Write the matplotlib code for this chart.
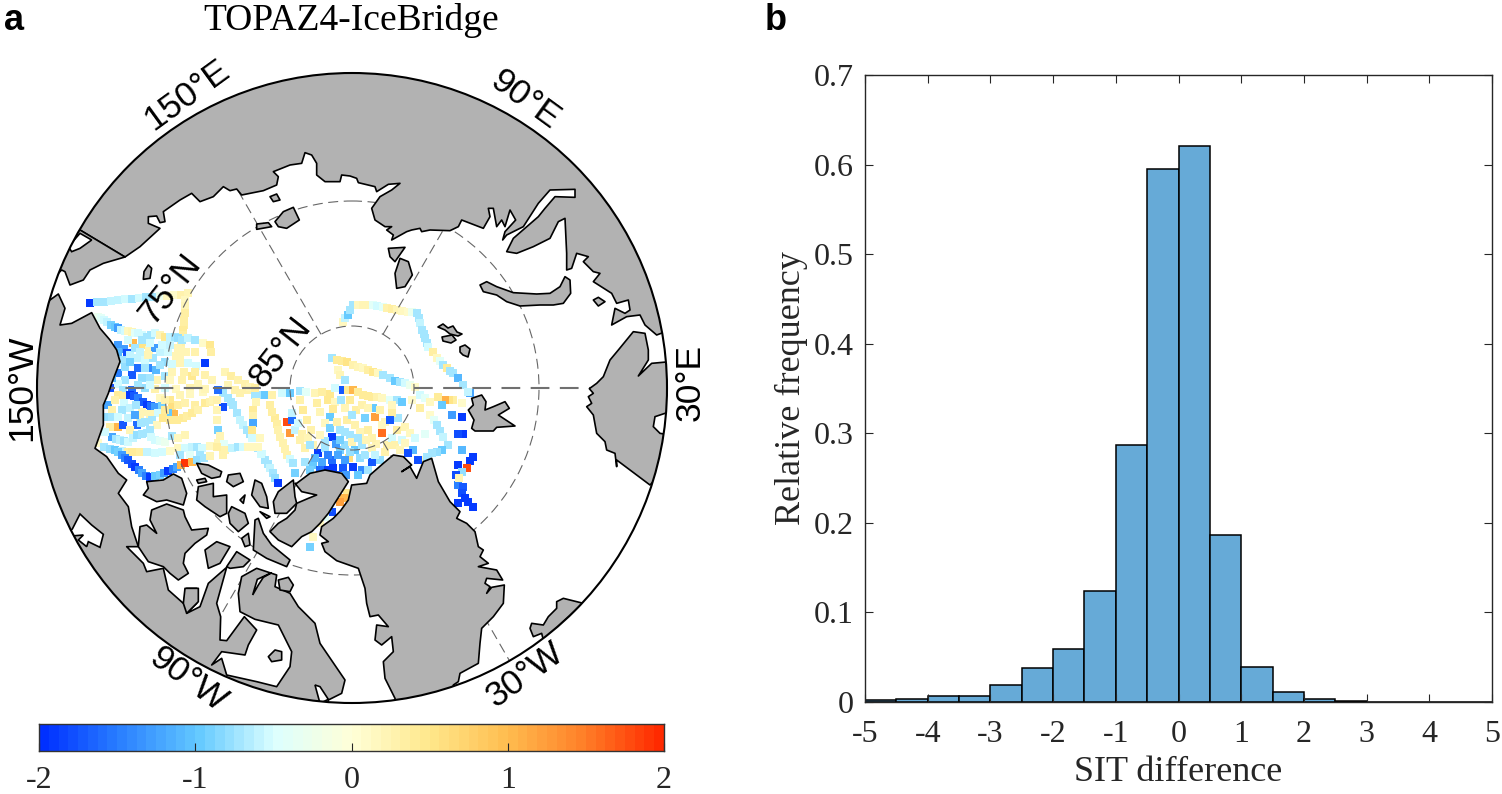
import numpy as np
import matplotlib
matplotlib.use("Agg")
import matplotlib.pyplot as plt
from matplotlib.colors import LinearSegmentedColormap, Normalize
from matplotlib.patches import Circle, Polygon

# ---------- histogram data ----------
BIN_EDGES = [-5, -4.5, -4, -3.5, -3, -2.5, -2, -1.5, -1, -0.5, 0, 0.5, 1, 1.5, 2, 2.5, 3, 3.5, 4, 4.5, 5]
REL_FREQ = [0.002, 0.003, 0.007, 0.007, 0.019, 0.038, 0.059, 0.124, 0.287, 0.595,
            0.621, 0.186, 0.039, 0.011, 0.003, 0.001, 0.0, 0.0, 0.0, 0.0]
HIST_XTICKS = [-5, -4, -3, -2, -1, 0, 1, 2, 3, 4, 5]
HIST_YTICKS = [0, 0.1, 0.2, 0.3, 0.4, 0.5, 0.6, 0.7]
CBAR_TICKS = [-2, -1, 0, 1, 2]

# ---------- along-track SIT differences: (x, y, value) on the map's pixel grid ----------
TRACK_BEAUFORT = [(90,303,-1.9),(97,302,-.7),(104,302,-.7),(111,301,-.6),(118,300,-.6),(125,299,-.4),(132,299,-.5),
    (139,298,-.4),(146,297,-.5),(153,297,-.5),(160,296,-.2),(167,296,.2),(174,295,.1),(181,295,.4),(188,293,.3)]
TRACK_SOUTH = [(185,300,.2),(185,306,.3),(185,313,.5),(184,320,.5),(184,325,.5),(183,330,.6),(183,335,.5),(182,340,.4),(181,345,.4),(181,350,.3),(180,358,.3),(180,363,.3),
    (184,372,.4),(192,376,.7),(198,384,.3),(203,392,.2)]
TRACK_COAST = [(98,317,-.2),(101,318,-.3),(104,320,-.4),(107,322,-.6),(111,325,-.9),(115,327,-1.0),(118,328,-1.3),(121,330,-.6),(125,331,-.4),(128,331,.2),(132,332,.3),(135,333,-.3),(138,333,-.4),(142,335,-.4),(147,337,-.5),
    (151,335,-.5),(155,333,-.4),(160,335,.3),(165,337,.7),(170,337,-.6),(175,337,-.7),(178,338,-.8),(182,340,-.7),(188,338,-.6),(195,340,-.7),(203,343,.1),(210,345,.7),(211,352,.5)]
TRACK_NW = [(118,345,-1.3),(124,349,-1.3),(118,352,-1.1),(127,353,-1.8),(133,343,1.0),(122,360,-.7),(143,345,.8),(149,350,.3),
    (155,348,-1.3),(160,352,-.6),(168,352,-.4),(176,356,.3),(130,355,-.6),(138,358,-.6),(145,360,-.4),(153,358,-.5),(165,362,-.8),
    (188,363,-.4),(196,366,-.4),(205,363,-1.9),(138,368,-1.6),(148,368,-1.4),(156,370,-1.1),(132,375,-1.7),(118,373,-1.5),(125,367,-.8),
    (112,366,-1.2),(157,380,.3),(165,376,-.5),(150,378,-.5),(172,372,.3),(142,378,-.8),(125,380,-.7),(118,384,-.4),
    (110,388,-1.8),(123,390,-.7),(132,390,-1.6),(145,388,-.8),(155,389,.4),(165,388,-.4),(176,389,.2),(190,388,.4),(205,389,.3),
    (135,348,-.5),(128,340,-.4),(142,340,-.5),(150,343,-.4),(162,345,-.4),(170,345,-.6),(178,348,.3),(186,352,.3),(195,352,.4),
    (140,352,-.6),(148,355,.3),(130,362,-.9),(145,368,-.5),(160,365,-.5),(172,364,-.4),(195,372,.5),(205,375,.4),(212,380,.3),
    (115,360,-1.0),(112,378,-1.1),(138,385,-.7),(150,385,-.4),(170,380,.2),(182,380,.4)]
TRACK_W_DIAG = [(118,395,.6),(124,396,.5),(130,395,-1.9),(134,396,-1.7),(138,398,-1.5),(143,402,-1.7),(147,405,-1.9),(151,406,-1.6),(155,407,-1.3),(162,405,-.9),(170,400,.7),(172,407,.9),
    (174,414,1.0),(168,413,-1.0),(108,405,-1.2),(115,400,.4),(124,403,-.4),(130,408,-.6),(122,410,-.5),(142,412,.3),(150,414,.3),
    (104,395,-.6),(112,410,.4),(160,398,.2),(180,395,.3),(190,394,.2),(136,405,-.5),(158,413,-.4),(165,400,.4),(178,405,.5),(185,403,.4),(195,405,.5),(140,420,.3)]
TRACK_W_ROW1 = [(107,417,-.8),(112,417,-.5),(118,417,-.4),(118,427,1.0),(123,425,-1.7),(128,418,-.6),(135,415,-1.2),(137,425,-1.6),(141,423,-.5),(145,422,-.5),
    (152,420,-.5),(157,425,.2),(163,418,.7),(165,410,.6),(170,420,.6),(177,420,.6),(183,418,.6),(187,416,.5),(192,413,.6),(198,410,.4),(205,403,.6),(210,402,.4),(213,400,.3),(110,427,.5),(130,430,.3),(150,430,-.5)]
TRACK_W_ROW2 = [(112,437,-1.2),(116,439,-.7),(120,440,-.6),(124,441,-.5),(128,442,-.4),(133,438,-.6),(137,435,-.8),(142,434,-.5),(147,433,-.5),(151,437,-.4),(155,440,-.4),(160,441,-.3),(165,442,-.2),(172,436,-.5),(105,432,-.4),(178,438,.2),(185,435,.3)]
TRACK_W_ROW3 = [(98,443,.1),(104,447,-.7),(110,449,-.8),(115,450,-1.0),(122,451,-.6),(128,452,.5),(132,452,.6),(140,452,.5),(147,452,-.6),(155,453,-.4),
    (162,452,-.4),(170,451,.1),(178,448,.2),(185,448,-.4),(192,447,-.6),(197,447,-.5),(202,448,-.4),(210,446,.2),(218,443,.3),(224,444,-.3),(180,455,-.5),(190,455,-.3),(200,455,-.5)]
TRACK_W_ARC = [(118,452,-.9),(122,455,-1.3),(125,458,-1.5),(128,460,-1.7),(132,464,-1.8),(135,467,-1.9),(139,470,-1.5),(142,473,-1.2),(146,476,-1.5),(150,477,-1.9),(155,476,-1.0),(160,475,-.9),(164,473,-1.3),(168,471,-1.9),(173,469,-1.5),(177,467,-1.2),
    (181,465,1.0),(185,463,1.9),(192,462,1.0),(197,460,-.8),(204,458,-.5),(210,456,.3)]
TRACK_C1 = [(223,393,-.7),(228,398,-.7),(231,402,-.5),(233,405,-.5),(237,413,-.5),(240,420,-.6),(243,425,-.6),(247,430,-.7),(250,434,-.5),(252,438,-.4),(218,390,-1.6),(223,407,-1.8),
    (217,400,.4),(217,410,.3),(217,420,.3),(218,430,-.9),(217,447,.5),(220,436,.3),(223,455,.4)]
TRACK_C2 = [(225,450,.4),(232,448,-.6),(238,447,-.7),(243,447,-.4),(248,447,.2),(253,447,.2),(258,448,-.5),(262,454,-.4),(265,460,-.5),(268,464,-.5),(270,468,-.6),(273,473,-.7),(275,478,-.8),(278,483,-1.9),(261,454,-.4)]
TRACK_C3 = [(240,393,.4),(247,390,.4),(255,395,-.5),(260,395,-.7),(265,395,-1.0),(272,395,.4),(253,410,.6),(253,416,.4),(253,423,-1.2),(252,430,.7),(258,447,.2),(256,402,.3),(260,438,.2),
    (225,372,.3),(231,376,.5),(238,380,.4),(245,384,.4),(250,387,.3),(255,388,.5),(228,385,.3),(235,390,.4)]
TRACK_C4 = [(275,418,.6),(277,424,.5),(278,430,.4),(280,437,.4),(283,443,.4),(285,449,.4),(287,455,.4),(290,459,-.4),(293,463,-.5),(295,473,-.9),(270,405,.5),(272,412,.5),(287,422,1.8),(290,433,1.3),(292,420,-1.6),
    (292,413,-.6),(295,430,-.6),(300,440,.4),(302,434,.4),(305,448,.4),(298,423,-.4),(308,438,.3),(313,445,.3)]
TRACK_C5 = [(290,393,-1.0),(282,393,-.4),(300,391,-.5),(306,392,-.3),(315,393,.3),(322,392,.5),(330,394,.7),(300,400,.4),(303,410,.6),(307,420,.5),(311,430,.4),
    (328,400,.7),(330,417,-1.0),(325,423,.2),(335,402,.2),(341,400,-.5),(320,412,.3),(333,409,.6),(317,403,.5)]
TRACK_C6 = [(332,437,-1.9),(318,453,-1.9),(322,462,-1.2),(332,460,-1.6),(333,468,-1.9),(343,468,-1.7),(340,450,-.9),(336,444,-1.3),(345,445,-.8),
    (325,441,-.5),(310,445,-.5),(327,470,-1.9),(349,458,.9),(305,462,-.7),(313,465,-1.0),(340,430,-.7),(330,428,-.9),(350,435,-.5),(337,422,.4),
    (345,432,-.7),(320,435,.2),(325,448,-.5),(355,450,-1.0),(346,475,-1.3),(353,467,-1.9),(360,458,-.8),(362,470,-1.4),(372,462,-1.7),(365,455,-.5),(372,448,.3),(380,460,-.8),
    (338,455,-1.2),(328,455,-1.5),(350,452,-.8),(345,460,-1.3),(315,458,-1.1),(310,470,-.9),(320,470,-1.6),(336,475,-1.7),(358,475,-1.0),(368,470,-.7)]
TRACK_C7 = [(340,440,-.9),(347,420,.5),(355,425,.4),(365,418,-.9),(360,432,.3),(368,430,.5),(375,417,1.2),(373,408,-1.0),(382,433,1.6),(376,444,.3),
    (387,445,.4),(392,438,-.4),(385,422,.3),(397,430,.5),(405,427,.3),(398,418,-.5),(392,413,.5),(390,420,-1.7),(352,442,.3),(362,445,-.5),(356,410,.5),(362,405,.4),(350,400,.6),
    (380,410,.4),(368,408,.3),(345,408,.3),(352,415,-.5),(372,438,.4),(382,425,.2),(395,445,.4),(402,440,-.4),(410,433,.2),(385,452,.4),(375,455,-.6),(358,438,-.5),(366,440,.3),(400,450,.3)]
TRACK_ARC_TOP = [(343,322,.2),(345,318,-.6),(348,315,-1.0),(350,310,-.5),(353,305,-.5),(358,305,.2),(363,305,.3),(368,305,.3),(373,305,-.3),(377,306,-.4),(383,307,-.3),(387,308,.4),(392,309,.5),(397,310,.3),(402,311,.2),(408,312,.1),(412,312,-.2),
    (417,313,-.5),(419,318,-.5),(420,323,-.6),(422,330,-.7),(424,334,-.7),(425,338,-.7),(427,343,-.5),(428,347,-.4),(433,352,.5),(437,358,.2),(440,361,-.3),(443,365,-.5),(447,368,.6),(450,371,-.5),(453,373,-.7),(458,378,-1.1),(463,385,-.5),(470,393,-1.2)]
TRACK_EAST = [(332,358,-.5),(337,360,.6),(342,361,.6),(347,362,.8),(353,365,.4),(358,367,.3),(363,368,.2),(368,370,.5),(373,372,.7),(378,373,.2),(383,375,-.5),(390,378,-.7),(395,381,-1.0),(400,382,-.5),(405,383,-.4),(410,385,-.2),(415,387,.1),
    (338,370,.2),(340,375,.3),(345,380,-.5),(335,388,-.4),(343,390,-1.7),(348,390,.6),(353,390,1.0),(358,392,.6),(363,395,.6),(368,396,.6),(372,397,.6),(377,397,.4),(382,398,.2),(390,400,-.3),(397,400,-.5),(402,402,-1.0),(392,405,.2)]
TRACK_FRAM = [(468,392,-.6),(453,400,.5),(449,400,.8),(445,400,1.1),(442,405,-1.0),(462,403,.1),(452,415,-1.3),(462,417,-1.9),(463,434,-1.9),(458,434,-1.8),(462,450,-1.1),
    (473,457,-1.9),(470,461,-1.9),(467,468,1.8),(458,465,-1.9),(462,472,-.8),(456,475,-1.8),(458,485,-1.5),(463,487,-1.7),(462,493,-1.8),(468,502,-1.9),(473,507,-1.9),(458,503,-1.9),(459,478,.3),(465,498,-1.9)]
TRACK_LOOP = [(420,395,-.4),(425,398,-.3),(430,402,.2),(438,397,.6),(420,408,.5),(430,415,.1),(434,420,-.3),(437,425,-.5),(440,431,-.5),(443,437,-.6),(448,445,-.5),(442,450,-1.0),(437,452,-.8),(432,453,-.7),(423,460,.3),
    (413,450,-1.1),(408,453,-1.8),(418,460,-1.8),(412,400,.1),(425,434,-.3),(427,457,-.5),(405,443,.2),(415,438,-.4)]
TRACK_STRAIT = [(332,512,-1.8),(328,508,-1.5),(347,493,.7),(344,498,1.0),(340,502,1.2),(320,523,.2),(325,517,-.3),(313,537,.2),(310,547,-.9)]

ALL_TRACKS = [TRACK_BEAUFORT, TRACK_SOUTH, TRACK_COAST, TRACK_NW, TRACK_W_DIAG, TRACK_W_ROW1, TRACK_W_ROW2, TRACK_W_ROW3,
              TRACK_W_ARC, TRACK_C1, TRACK_C2, TRACK_C3, TRACK_C4, TRACK_C5, TRACK_C6, TRACK_C7, TRACK_ARC_TOP, TRACK_EAST,
              TRACK_FRAM, TRACK_LOOP, TRACK_STRAIT]

# ---------- coastline outlines on the map's pixel grid ----------
def z(pts, dx=0, dy=0):
    return [(x / 3 + dx, y / 3 + dy) for x, y in pts]

EURASIA = [(80,230),(125,257)] + z([(420,740),(480,685),(445,670),(445,650),(470,648),(480,668),(495,665),(490,635),(540,600),(575,580),(600,605),(640,590),(670,560),(690,572),(710,567),(725,585),(790,572),(830,555),(835,530),(820,515),(870,495),(905,490),(915,458),(935,465),(950,490),(950,525),(975,545),(1020,545),(1025,525)]) + z([(0,528),(20,535),(25,548),(75,560),(80,575),(115,553),(150,550),(125,570),(90,590),(65,625),(75,660),(105,680),(125,680),(110,690),(130,705),(125,720),(170,695),(185,690),(210,685),(215,695),(240,690),(300,692),(325,680),(335,660),(400,685),(420,650),(415,625),(430,625),(440,680),(455,660),(465,680),(480,630),(497,660),(465,695),(458,720),(470,705),(520,680),(565,610),(600,570),(675,568),(675,592),(615,590),(585,625),(565,650),(490,715),(470,755),(500,760),(550,740),(600,715),(625,665),(645,655),(650,760),(650,810),(665,805),(680,760),(715,770),(700,785),(730,815),(750,820),(730,845),(785,880),(800,910),(835,900),(840,930),(825,940),(795,925),(785,975),(830,950),(870,945),(885,975),(920,1005),(960,990)],350,0) + [(720,300),(600,0),(100,0)]
CHUKOTKA = [(80,230),(125,257)] + z([(310,790),(270,810),(250,840),(210,855),(195,815),(185,810)]) + [(30,300),(50,220)]
NOVAYA = z([(390,855),(410,845),(440,860),(490,878),(560,882),(600,880),(630,860),(645,830),(660,840),(662,880),(640,910),(610,915),(570,915),(510,918),(470,905),(440,885),(400,875)],350,0)
SEVERNAYA = [z([(115,745),(165,742),(135,785),(120,770)],350,0), z([(150,775),(175,785),(187,825),(165,860),(140,865),(135,820)],350,0), z([(730,900),(745,892),(765,905),(745,918)],350,0)]
NEWSIB = [z([(810,590),(830,582),(840,600),(820,605)]), z([(825,665),(850,635),(880,622),(898,660),(860,685),(835,680)]), z([(770,672),(805,668),(815,680),(770,688)]), z([(445,795),(455,805),(450,835),(430,838),(432,815)])]
FRANZ = [[(438,327),(443,324),(448,328),(453,326),(457,332),(462,334),(458,336),(450,334),(445,330)], [(442,337),(452,335),(456,340),(451,343),(443,341)], [(460,347),(465,345),(470,349),(468,357),(463,355),(460,352)]]
SVALBARD = z([(365,145),(395,135),(408,155),(405,180),(430,170),(465,155),(478,175),(445,195),(495,228),(440,232),(430,243),(375,243),(365,235),(372,210),(355,180),(370,165)],350,350)
SCANDINAVIA = z([(900,405),(800,330),(800,350),(795,310),(770,300),(765,275),(740,250),(730,195),(710,170),(725,160),(715,140),(730,130),(718,116),(740,100),(760,80),(780,30),(805,0),(850,-55),(885,-50),(895,0),(895,30),(865,78),(905,40),(960,35),(1000,300)],350,350)
ICELAND = z([(700,760),(640,745),(620,755),(620,775),(595,800),(580,825),(545,820),(540,835),(550,860),(575,850),(580,870)],350,350)
GREENLAND = z([(5,405),(50,400),(60,375),(100,340),(130,315),(160,320),(185,345),(155,365),(180,350),(200,385),(210,360),(220,335),(245,325),(265,395),(300,455),(330,485),(320,505),(350,520),(375,545),(385,590),(400,600),(390,620),(415,640),(385,650),(440,660),(458,690),(410,685),(405,700),(420,710),(410,730),(425,712),(463,705),(460,760),(430,800),(395,835),(390,880),(385,940),(330,970),(325,995),(310,1005),(300,1080),(140,1090),(135,1045),(105,985),(100,935),(130,905),(125,860),(95,885),(75,870),(80,825),(115,830),(85,795),(60,800),(50,760),(45,715),(25,655),(-40,632),(-75,605),(-85,580),(-65,575),(-90,555),(-85,530),(-50,505),(-28,482),(-5,450)],350,350)
AMERICA = [(20,295)] + z([(150,900),(175,882),(195,925),(180,975),(215,970),(275,938),(300,985),(330,1020)]) + z([(350,0),(360,35),(335,100),(325,130),(310,165),(310,225),(285,295),(320,320),(355,370),(380,390),(355,430),(385,470),(395,530),(415,590),(380,590),(430,640),(440,665),(490,655),(505,720),(550,760),(560,715),(590,715),(590,760),(560,790),(600,770),(625,700),(680,652),(650,760),(662,800),(660,870),(680,872),(733,800),(770,840),(745,885),(735,915),(665,905),(635,945),(665,925),(680,975),(770,995),(830,1010),(870,950),(875,905),(835,825),(765,808),(720,785),(715,730),(725,680),(770,655),(830,675),(825,710),(870,730),(895,770),(945,820),(960,880),(1035,990),(1025,1030),(985,1050),(975,1120)],0,350) + [(100,740),(0,500)]
CAA = [z(p,0,350) for p in [
    [(440,395),(490,390),(520,372),(545,385),(560,430),(550,465),(500,450),(470,455),(430,435),(445,415)],
    [(455,480),(500,462),(550,480),(555,500),(575,540),(625,535),(620,555),(585,580),(555,610),(550,640),(565,670),(535,690),(510,670),(490,650),(445,635),(415,590),(420,530),(440,525),(470,550),(450,510)],
    [(590,340),(625,345),(665,365),(660,380),(635,385),(605,370)],
    [(590,390),(615,385),(620,395),(595,400)],
    [(595,410),(640,400),(640,440),(680,435),(680,490),(660,500),(615,470),(590,450)],
    [(685,375),(720,370),(730,395),(700,410),(680,395)],
    [(720,450),(735,435),(730,460)],
    [(765,390),(785,400),(800,440),(805,475),(780,470),(755,435)],
    [(780,485),(810,500),(800,505)],
    [(695,470),(735,490),(745,520),(715,545),(690,520),(685,490)],
    [(765,510),(775,505),(790,550),(815,585),(870,630),(860,650),(800,625),(760,600)],
    [(725,565),(745,550),(750,585),(735,590)],
    [(615,600),(650,575),(690,590),(660,640),(625,655)],
    [(680,650),(710,605),(750,630),(730,650),(690,655)],
    [(835,690),(865,682),(880,705),(870,725),(840,720)],
    [(825,900),(845,905),(845,930),(815,935),(805,920)],
    [(555,715),(595,715),(595,755),(560,790),(550,760)],
    [(835,425),(880,390),(885,440),(890,460),(860,490),(825,490),(820,455)],
    [(890,400),(930,370),(975,360),(1025,370),(1045,395),(985,490),(960,520),(935,545),(905,560),(875,590),(835,570),(810,545),(835,520),(860,505),(885,480),(890,460),(925,445),(950,435),(905,425),(885,400)],
]]
WATER = [z([(217,537),(240,492),(275,525),(310,553),(300,592),(265,575),(260,590),(235,570),(250,555),(190,560)],0,350),
         z([(945,1005),(960,1010),(985,1048),(960,1060)],0,350),
         z([(758,735),(772,688),(815,668),(790,682),(775,705)],0,350),
         z([(915,200),(960,185),(960,255),(930,250),(910,230)],350,350),
         z([(240,700),(275,720),(240,745),(215,755),(205,740)])]

SIT_COLORS = ["#0030ff", "#2a80ff", "#62c8ff", "#dcffff", "#ffffd8", "#ffe88c", "#ffbe50", "#ff8028", "#ff2a00"]
cmap = LinearSegmentedColormap.from_list("sit", SIT_COLORS, N=64)
norm = Normalize(-2, 2)

SERIF = "Liberation Serif"
SANS = "Liberation Sans"
AXC = "#262626"
fig = plt.figure(figsize=(15.02, 7.94), dpi=100)

# ---------- map panel ----------
m = fig.add_axes([0, 0, 1, 1])
m.set_xlim(0, 1502)
m.set_ylim(794, 0)
m.axis("off")
CX, CY, R = 352, 388, 315
clip = Circle((CX, CY), R, transform=m.transData)

cells = np.array([c for t in ALL_TRACKS for c in t], dtype=float)
# first readings of the pale cells came out too tan / too washed out against the colour bar
vals = cells[:, 2].copy()
vals[(vals > 0) & (vals < 1)] *= 0.65
vals[(vals < 0) & (vals > -0.6)] *= 1.4
sc = m.scatter(cells[:, 0], cells[:, 1], c=vals, cmap=cmap, norm=norm, marker="s", s=34, linewidths=0, zorder=2)
sc.set_clip_path(clip)

for r in (62, 187):
    m.add_patch(Circle((CX, CY), r, fill=False, ec="#666666", lw=0.8, ls=(0, (9, 5)), zorder=3))
for ang, lw, col in ((0, 1.5, "#707070"), (60, 0.8, "#666666"), (120, 0.8, "#666666")):
    c, s = np.cos(np.radians(ang)), np.sin(np.radians(ang))
    for sgn in (1, -1):
        m.plot([CX + sgn * 62 * c, CX + sgn * R * c], [CY + sgn * 62 * s, CY + sgn * R * s],
               color=col, lw=lw, ls=(0, (9, 5)), zorder=3)

polys = [EURASIA, CHUKOTKA, NOVAYA, SVALBARD, SCANDINAVIA, ICELAND, GREENLAND, AMERICA] + SEVERNAYA + NEWSIB + FRANZ + CAA
for p in polys:
    pg = Polygon(p, closed=True, fc="#b2b2b2", ec="black", lw=1.2, joinstyle="round", zorder=4)
    m.add_patch(pg)
    pg.set_clip_path(clip)
for p in WATER:
    pg = Polygon(p, closed=True, fc="white", ec="black", lw=1.2, zorder=4.5)
    m.add_patch(pg)
    pg.set_clip_path(clip)
m.add_patch(Circle((CX, CY), R, fill=False, ec="black", lw=1.5, zorder=5))

LON_LABELS = [("150°E", 187, 95, 36), ("90°E", 525, 100, -36), ("30°E", 690, 382, 90), ("150°W", 22, 388, 90),
              ("90°W", 188, 680, -36), ("30°W", 525, 675, 36), ("75°N", 170, 289, 52), ("85°N", 280, 352, 52)]
for txt, x, y, rot in LON_LABELS:
    m.text(x, y, txt, family=SANS, fontsize=25.5, rotation=rot, ha="center", va="center", rotation_mode="anchor", zorder=6)

m.text(351, 20, "TOPAZ4-IceBridge", family=SERIF, fontsize=27, ha="center", va="center")
m.text(4, 30, "a", family=SANS, weight="bold", fontsize=26, ha="left", va="baseline")
m.text(765, 30, "b", family=SANS, weight="bold", fontsize=26, ha="left", va="baseline")

def axpos(x0, y0, x1, y1):
    return [x0 / 1502, 1 - y1 / 794, (x1 - x0) / 1502, (y1 - y0) / 794]

# ---------- colour bar ----------
cb = fig.add_axes(axpos(39, 724, 664, 751))
levels = np.linspace(-2, 2, 65)
cb.pcolormesh(levels, [0, 1], levels[:-1][None, :] + 0.03125, cmap=cmap, norm=norm)
cb.set_yticks([])
cb.set_xlim(-2, 2)
cb.set_xticks(CBAR_TICKS)
cb.set_xticklabels([str(t) for t in CBAR_TICKS], family=SERIF, fontsize=23)
cb.tick_params(axis="x", direction="in", length=6, width=0.8, color=AXC, labelcolor=AXC, pad=11)
for s in cb.spines.values():
    s.set_color("#333333")
    s.set_linewidth(1.0)

# ---------- histogram ----------
h = fig.add_axes(axpos(865, 75, 1492, 702))
h.bar(BIN_EDGES[:-1], REL_FREQ, width=0.5, align="edge", color="#66aad7", edgecolor="black", linewidth=1.1)
h.set_xlim(-5, 5)
h.set_ylim(0, 0.7)
h.set_xticks(HIST_XTICKS)
h.set_yticks(HIST_YTICKS)
h.set_xticklabels([str(t) for t in HIST_XTICKS], family=SERIF, fontsize=23)
h.set_yticklabels(["0", "0.1", "0.2", "0.3", "0.4", "0.5", "0.6", "0.7"], family=SERIF, fontsize=23)
h.tick_params(axis="x", direction="in", length=6, width=0.8, top=True, color=AXC, labelcolor=AXC, pad=13)
h.tick_params(axis="y", direction="in", length=6, width=0.8, right=True, color=AXC, labelcolor=AXC, pad=8)
h.set_xlabel("SIT difference", family=SERIF, fontsize=26, color=AXC, labelpad=5)
h.set_ylabel("Relative frequency", family=SERIF, fontsize=26, color=AXC, labelpad=4)
for s in h.spines.values():
    s.set_color(AXC)
    s.set_linewidth(1.0)

fig.savefig("out.png", dpi=100)
